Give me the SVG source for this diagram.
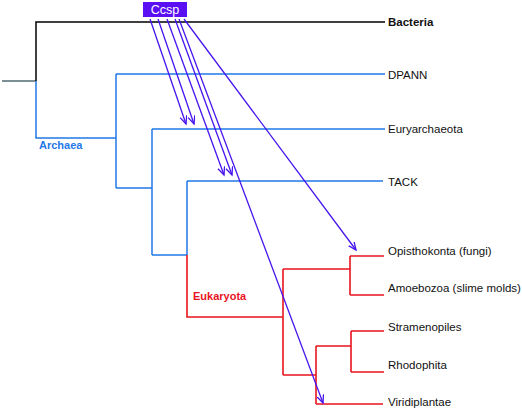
<svg xmlns="http://www.w3.org/2000/svg" width="522" height="411" viewBox="0 0 522 411">
<style>
.t{font-family:"Liberation Sans",Arial,sans-serif;font-size:11.5px;fill:#111}
.b{font-weight:bold}
.bk{fill:none;stroke:#000;stroke-width:1.5}
.bl{fill:none;stroke:#1f78e8;stroke-width:1.5}
.rd{fill:none;stroke:#e8141e;stroke-width:1.6}
.ar{fill:none;stroke:#4614ee;stroke-width:1.3;marker-end:url(#ah)}
</style>
<defs>
<marker id="ah" markerUnits="userSpaceOnUse" markerWidth="10" markerHeight="10" refX="8" refY="3.5" orient="auto">
<path d="M0,0 L8,3.5 L0,7" fill="none" stroke="#4614ee" stroke-width="1.3"/>
</marker>
</defs>
<g id="tree">
<path d="M2,81 H36" fill="none" stroke="#506a70" stroke-width="1.3"/>
<path class="bk" d="M36,81 V22 H385"/>
<path class="bl" d="M36,81 V138 H116 M116,74 V188 M116,74 H385 M116,188 H152 M152,129 V255 M152,129 H385 M152,255 H187 M187,181 V255 M187,181 H383"/>
<path class="rd" d="M187,255 V317 H283 M283,269 V375 M283,269 H350 M350,256 V295 M350,256 H384 M350,295 H384 M283,375 H316 M316,346 V404 M316,404 H383 M316,346 H351 M351,331 V372 M351,331 H384 M351,372 H384"/>
</g>
<g id="bacteria"><text class="t b" x="388" y="26">Bacteria</text></g>
<g id="dpann"><text class="t" x="388" y="79">DPANN</text></g>
<g id="euryarchaeota"><text class="t" x="388" y="133">Euryarchaeota</text></g>
<g id="tack"><text class="t" x="388" y="186">TACK</text></g>
<g id="archaea"><text class="t b" x="39" y="149" style="fill:#1f78e8;font-size:11px">Archaea</text></g>
<g id="eukaryota"><text class="t b" x="193" y="300" style="fill:#e8141e;font-size:11px">Eukaryota</text></g>
<g id="opisthokonta"><text class="t" x="388" y="255">Opisthokonta (fungi)</text></g>
<g id="amoebozoa"><text class="t" x="388" y="292">Amoebozoa (slime molds)</text></g>
<g id="stramenopiles"><text class="t" x="388" y="331">Stramenopiles</text></g>
<g id="rhodophita"><text class="t" x="388" y="369">Rhodophita</text></g>
<g id="viridiplantae"><text class="t" x="388" y="406">Viridiplantae</text></g>
<g id="ccsp">
<rect x="143" y="2" width="44" height="15" fill="#5a10f2"/>
<text class="t" x="165" y="14" text-anchor="middle" style="fill:#fff;font-size:12.5px">Ccsp</text>
</g>
<g id="connectors">
<path class="ar" d="M150,19 L186,124"/>
<path class="ar" d="M158,19 L194,124"/>
<path class="ar" d="M167,19 L224,175"/>
<path class="ar" d="M175,19 L232,175"/>
<path class="ar" d="M179,19 L323,403"/>
<path class="ar" d="M184,19 L356,250"/>
</g>
</svg>
